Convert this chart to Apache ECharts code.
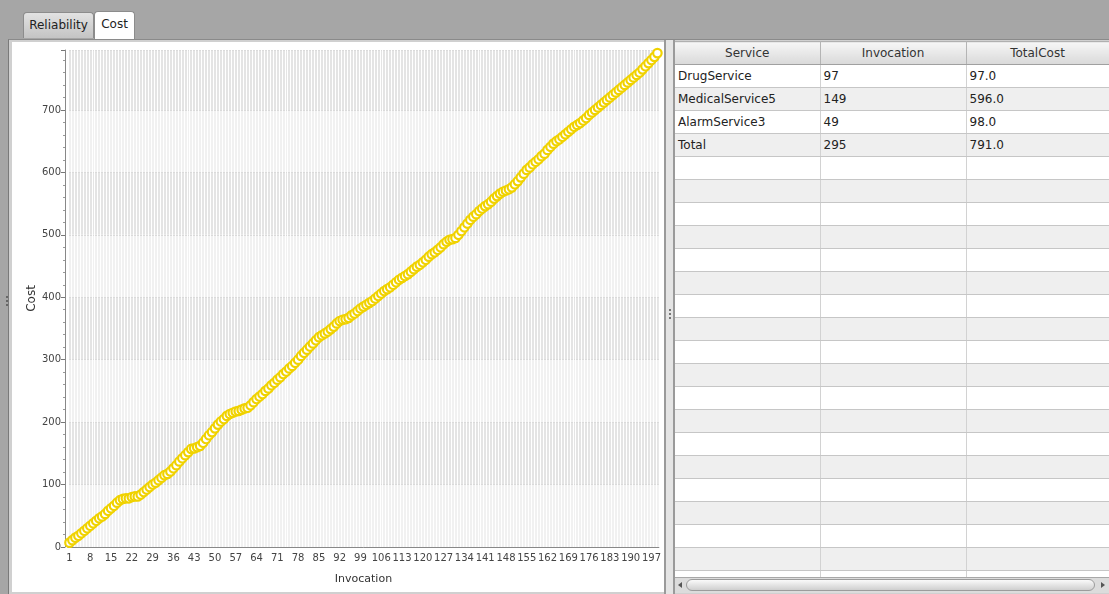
<!DOCTYPE html>
<html>
<head>
<meta charset="utf-8">
<script src="https://cdn.jsdelivr.net/npm/echarts@6/dist/echarts.min.js"></script>
<style>
  html, body { margin:0; padding:0; }
  body { width:1109px; height:594px; background:#a6a6a6; position:relative; overflow:hidden;
         font-family:"DejaVu Sans", sans-serif; }
  .tab { position:absolute; top:12px; height:26px; box-sizing:border-box; border:1px solid #8c8c8c;
         border-bottom:none; border-radius:4px 4px 0 0; font-size:12px; color:#222; line-height:25px; text-align:center; }
  #tab1 { left:23px; width:71px; background:linear-gradient(#e2e2e2,#c4c4c4); }
  #tab2 { left:94px; width:41px; top:11px; height:29px; background:#fff; }
  #pane { position:absolute; left:8px; top:39px; width:1101px; height:555px; background:#d0d0d0;
          border-top:1px solid #8a8a8a; border-left:1px solid #7a7a7a; box-sizing:border-box; }
  #leftPanel { position:absolute; left:12px; top:42px; width:652px; height:550px; background:#fff; }
  #chart { position:absolute; left:0; top:0; width:652px; height:550px; }
  #split { position:absolute; left:664px; top:40px; width:11px; height:554px; background:#e4e4e4;
           border-left:2px solid #9a9a9a; border-right:2px solid #9a9a9a; box-sizing:border-box; }
  .dot { position:absolute; left:3px; width:2px; height:2px; background:#777; }
  .ldot { position:absolute; left:6px; width:2px; height:2px; background:#666; }
  #tablePanel { position:absolute; left:675px; top:41px; width:434px; height:536px; background:#fff; overflow:hidden; }
  table { border-collapse:collapse; table-layout:fixed; width:434px; font-size:12px; color:#222; }
  th { height:22px; font-weight:normal; background:linear-gradient(#f6f6f6,#d9d9d9); border-right:1px solid #b4b4b4;
       border-bottom:1px solid #a0a0a0; border-top:1px solid #b0b0b0; color:#333; padding:0; }
  td { height:22px; padding:0 0 0 3px; border-bottom:1px solid #c6c6c6; border-right:1px solid #d2d2d2; white-space:nowrap; }
  tr.odd td { background:#fff; }
  tr.even td { background:#efefef; }
  #scroll { position:absolute; left:675px; top:577px; width:434px; height:16px; background:#dcdcdc;
            border-top:1px solid #a8a8a8; box-sizing:border-box; }
  #thumb { position:absolute; left:11px; top:1px; width:409px; height:12px; border-radius:6px;
           background:linear-gradient(#fafafa,#cfcfcf); border:1px solid #9c9c9c; box-sizing:border-box; }
  .arrow { position:absolute; top:4px; width:0; height:0; border-top:3px solid transparent; border-bottom:3px solid transparent; }
  #al { left:3px; border-right:4px solid #555; }
  #ar { right:4px; border-left:4px solid #555; }
</style>
</head>
<body>
<div class="tab" id="tab1">Reliability</div>
<div class="tab" id="tab2">Cost</div>
<div id="pane"></div>
<div class="ldot" style="top:296px"></div><div class="ldot" style="top:300px"></div><div class="ldot" style="top:304px"></div>
<div id="leftPanel"><div id="chart"></div></div>
<div id="split"><div class="dot" style="top:269px"></div><div class="dot" style="top:273px"></div><div class="dot" style="top:277px"></div></div>
<div id="tablePanel"><table id="tbl"></table></div>
<div id="scroll"><div class="arrow" id="al"></div><div id="thumb"></div><div class="arrow" id="ar"></div></div>
<script>
// ---- Data ----
const invocations = [1,2,3,4,5,6,7,8,9,10,11,12,13,14,15,16,17,18,19,20,21,22,23,24,25,26,27,28,29,30,
31,32,33,34,35,36,37,38,39,40,41,42,43,44,45,46,47,48,49,50,51,52,53,54,55,56,57,58,59,60,
61,62,63,64,65,66,67,68,69,70,71,72,73,74,75,76,77,78,79,80,81,82,83,84,85,86,87,88,89,90,
91,92,93,94,95,96,97,98,99,100,101,102,103,104,105,106,107,108,109,110,111,112,113,114,115,116,117,118,119,120,
121,122,123,124,125,126,127,128,129,130,131,132,133,134,135,136,137,138,139,140,141,142,143,144,145,146,147,148,149,150,
151,152,153,154,155,156,157,158,159,160,161,162,163,164,165,166,167,168,169,170,171,172,173,174,175,176,177,178,179,180,
181,182,183,184,185,186,187,188,189,190,191,192,193,194,195,196,197,198,199];
const cost = [7,11,15,18,22,26,30,34,38,42,46,49,53,58,62,66,71,75,77,78,
78,80,81,81,84,88,92,96,100,103,107,111,115,117,121,126,131,137,142,147,
152,157,158,160,162,167,173,179,184,190,196,201,205,210,213,215,217,218,220,222,
223,227,232,237,241,245,250,254,259,263,268,272,277,281,286,290,295,300,306,311,
316,321,326,331,336,339,342,345,349,353,358,362,364,365,367,371,374,378,382,385,
388,391,394,398,402,406,410,413,416,420,424,428,431,434,437,441,445,449,452,456,
460,465,469,472,476,480,485,489,492,493,495,500,506,512,518,524,529,533,538,542,
546,549,553,558,562,566,569,571,573,576,581,586,592,598,604,608,613,617,621,626,
630,636,641,646,650,653,657,661,665,669,673,676,679,683,687,692,696,700,704,708,
712,716,720,724,728,732,736,740,744,748,752,756,760,765,770,775,780,785,791];
const yTicks = [0,100,200,300,400,500,600,700];

const tableHeaders = ["Service","Invocation","TotalCost"];
const services = ["DrugService","MedicalService5","AlarmService3","Total"];
const serviceInvocations = ["97","149","49","295"];
const serviceCosts = ["97.0","596.0","98.0","791.0"];

// ---- Table ----
(function(){
  const t = document.getElementById('tbl');
  let h = '<colgroup><col style="width:145px"><col style="width:146px"><col style="width:143px"></colgroup><tr>';
  tableHeaders.forEach(x => h += '<th>' + x + '</th>');
  h += '</tr>';
  for (let i = 0; i < 23; i++) {
    const cls = i % 2 === 0 ? 'odd' : 'even';
    if (i < services.length) {
      h += '<tr class="'+cls+'"><td>'+services[i]+'</td><td>'+serviceInvocations[i]+'</td><td>'+serviceCosts[i]+'</td></tr>';
    } else {
      h += '<tr class="'+cls+'"><td></td><td></td><td></td></tr>';
    }
  }
  t.innerHTML = h;
})();

// ---- Chart ----
const chart = echarts.init(document.getElementById('chart'), null, {renderer:'canvas'});
chart.setOption({
  animation: false,
  textStyle: { fontFamily: 'DejaVu Sans' },
  grid: { left: 56, top: 8, width: 591, height: 497, containLabel: false },
  xAxis: {
    type: 'category',
    data: invocations,
    boundaryGap: true,
    name: 'Invocation',
    nameLocation: 'middle',
    nameGap: 27,
    nameTextStyle: { fontSize: 11, color: '#333' },
    axisLine: { lineStyle: { color: '#888' } },
    axisTick: { interval: 0, alignWithLabel: true, length: 4, lineStyle: { color: '#777' } },
    axisLabel: { interval: 6, fontSize: 10, color: '#444', margin: 6 },
    splitLine: { show: true, interval: 0, lineStyle: { color: '#ffffff', width: 1 } }
  },
  yAxis: {
    type: 'value',
    min: 0,
    max: 796,
    interval: 100,
    offset: 3,
    name: 'Cost',
    nameLocation: 'middle',
    nameGap: 27,
    nameMoveOverlap: false,
    nameRotate: 90,
    nameTextStyle: { fontSize: 12, color: '#333' },
    axisLine: { show: true, lineStyle: { color: '#888' } },
    axisTick: { show: true, length: 4, lineStyle: { color: '#777' } },
    minorTick: { show: true, splitNumber: 5, length: 2, lineStyle: { color: '#999' } },
    axisLabel: { fontSize: 10, color: '#444', margin: 4, showMaxLabel: false,
      formatter: v => yTicks.indexOf(v) >= 0 ? String(v) : '' },
    splitLine: { show: true, lineStyle: { color: '#dadada' } },
    splitArea: { show: true, areaStyle: { color: ['#f1f1f1', '#e4e4e4'] } }
  },
  series: [{
    type: 'line',
    data: cost,
    symbol: 'circle',
    symbolSize: 8.5,
    showAllSymbol: true,
    itemStyle: { color: '#ffffff', borderColor: '#f0d200', borderWidth: 2.2 },
    lineStyle: { color: '#f0d200', width: 1, opacity: 0 },
    emphasis: { disabled: true }
  }]
});
</script>
</body>
</html>
